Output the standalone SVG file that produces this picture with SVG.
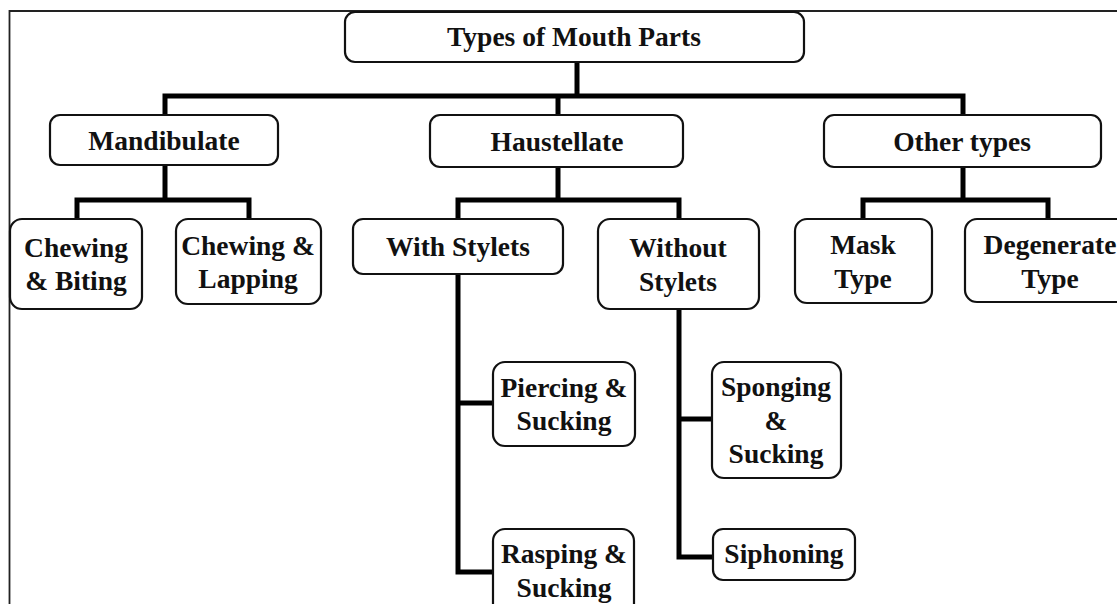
<svg xmlns="http://www.w3.org/2000/svg" width="1117" height="604" viewBox="0 0 1117 604">
<style>
.box{fill:#fff;stroke:#111;stroke-width:2.2}
.t{font-family:"Liberation Serif","Times New Roman",serif;font-weight:bold;font-size:27.5px;fill:#111;text-anchor:middle}
.c{fill:none;stroke:#000;stroke-width:5;stroke-linejoin:miter}
</style>
<rect width="1117" height="604" fill="#fff"/>
<path d="M9.5,610 V11 H1125" fill="none" stroke="#222" stroke-width="1.8"/>
<g id="connectors">
<path class="c" d="M577,62 V96"/>
<path class="c" d="M165,115 V96 H963 V115"/>
<path class="c" d="M558,96 V115"/>
<path class="c" d="M165,165 V200"/>
<path class="c" d="M77,219 V200 H249 V219"/>
<path class="c" d="M558,167 V200"/>
<path class="c" d="M458,219 V200 H679 V219"/>
<path class="c" d="M963,167 V200"/>
<path class="c" d="M863,219 V200 H1048 V219"/>
<path class="c" d="M458,274 V572 H493"/>
<path class="c" d="M458,403 H493"/>
<path class="c" d="M679,309 V557 H713"/>
<path class="c" d="M679,419 H713"/>
</g>
<g id="root"><rect class="box" x="345" y="12" width="459" height="50" rx="10"/><text class="t" x="574" y="46">Types of Mouth Parts</text></g>
<g id="mandibulate"><rect class="box" x="50" y="115" width="228" height="50" rx="10"/><text class="t" x="164" y="150">Mandibulate</text></g>
<g id="haustellate"><rect class="box" x="430" y="115" width="253" height="52" rx="10"/><text class="t" x="557" y="151">Haustellate</text></g>
<g id="other"><rect class="box" x="824" y="115" width="277" height="52" rx="10"/><text class="t" x="962" y="151">Other types</text></g>
<g id="chewing-biting"><rect class="box" x="10" y="219" width="132" height="90" rx="12"/><text class="t" x="76" y="257">Chewing</text><text class="t" x="76" y="290">&amp; Biting</text></g>
<g id="chewing-lapping"><rect class="box" x="176" y="219" width="145" height="85" rx="12"/><text class="t" x="248" y="255">Chewing &amp;</text><text class="t" x="248" y="288">Lapping</text></g>
<g id="with-stylets"><rect class="box" x="353" y="219" width="210" height="55" rx="10"/><text class="t" x="458" y="256">With Stylets</text></g>
<g id="without-stylets"><rect class="box" x="598" y="219" width="161" height="90" rx="12"/><text class="t" x="678" y="257">Without</text><text class="t" x="678" y="291">Stylets</text></g>
<g id="mask"><rect class="box" x="795" y="219" width="137" height="84" rx="12"/><text class="t" x="863" y="254">Mask</text><text class="t" x="863" y="288">Type</text></g>
<g id="degenerate"><rect class="box" x="965" y="219" width="170" height="83" rx="12"/><text class="t" x="1050" y="254">Degenerate</text><text class="t" x="1050" y="288">Type</text></g>
<g id="piercing"><rect class="box" x="493" y="362" width="142" height="84" rx="12"/><text class="t" x="564" y="397">Piercing &amp;</text><text class="t" x="564" y="430">Sucking</text></g>
<g id="rasping"><rect class="box" x="493" y="529" width="141" height="90" rx="12"/><text class="t" x="564" y="563">Rasping &amp;</text><text class="t" x="564" y="597">Sucking</text></g>
<g id="sponging"><rect class="box" x="712" y="362" width="129" height="116" rx="12"/><text class="t" x="776" y="396">Sponging</text><text class="t" x="776" y="430">&amp;</text><text class="t" x="776" y="463">Sucking</text></g>
<g id="siphoning"><rect class="box" x="713" y="529" width="142" height="51" rx="10"/><text class="t" x="784" y="563">Siphoning</text></g>
</svg>
